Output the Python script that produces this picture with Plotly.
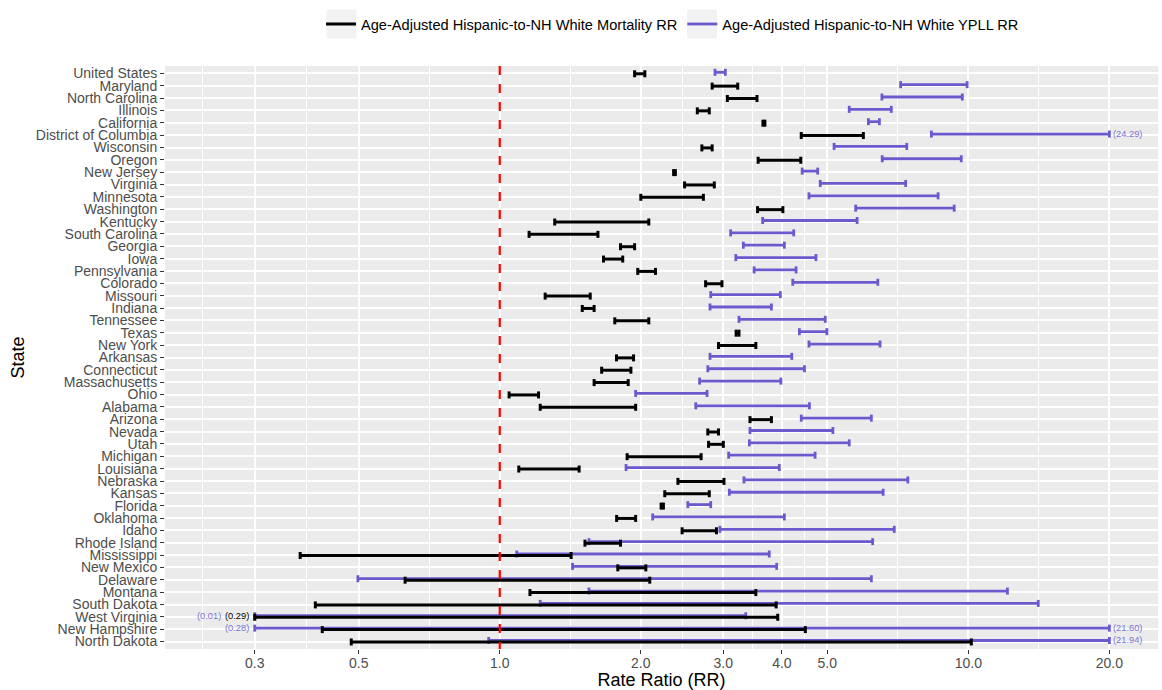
import numpy as np
import plotly.graph_objects as go

# ---------------- data ----------------
states = [
    "United States", "Maryland", "North Carolina", "Illinois", "California",
    "District of Columbia", "Wisconsin", "Oregon", "New Jersey", "Virginia",
    "Minnesota", "Washington", "Kentucky", "South Carolina", "Georgia", "Iowa",
    "Pennsylvania", "Colorado", "Missouri", "Indiana", "Tennessee", "Texas",
    "New York", "Arkansas", "Connecticut", "Massachusetts", "Ohio", "Alabama",
    "Arizona", "Nevada", "Utah", "Michigan", "Louisiana", "Nebraska", "Kansas",
    "Florida", "Oklahoma", "Idaho", "Rhode Island", "Mississippi", "New Mexico",
    "Delaware", "Montana", "South Dakota", "West Virginia", "New Hampshire",
    "North Dakota",
]

# Age-adjusted Hispanic-to-NH White mortality rate ratio (CI bounds)
mort_lo = [1.94, 2.84, 3.06, 2.64, 3.645, 4.40, 2.70, 3.56, 2.35, 2.48,
           2.00, 3.55, 1.31, 1.155, 1.81, 1.665, 1.97, 2.75, 1.25, 1.50,
           1.76, 3.195, 2.93, 1.775, 1.65, 1.59, 1.047, 1.22, 3.42, 2.78,
           2.79, 1.87, 1.098, 2.40, 2.25, 2.21, 1.776, 2.45, 1.52, 0.375,
           1.786, 0.628, 1.16, 0.404, 0.29, 0.418, 0.482]
mort_hi = [2.04, 3.22, 3.54, 2.80, 3.68, 5.97, 2.84, 4.39, 2.37, 2.87,
           2.72, 4.02, 2.08, 1.62, 1.94, 1.83, 2.15, 2.98, 1.56, 1.59,
           2.08, 3.24, 3.52, 1.93, 1.905, 1.88, 1.21, 1.95, 3.80, 2.93,
           3.00, 2.69, 1.477, 3.01, 2.80, 2.235, 1.95, 2.90, 1.81, 1.42,
           2.05, 2.09, 3.52, 3.89, 3.92, 4.49, 10.15]

# Age-adjusted Hispanic-to-NH White YPLL rate ratio (CI bounds)
ypll_lo = [2.88, 7.17, 6.54, 5.57, 6.12, 8.34, 5.17, 6.55, 4.42, 4.83,
           4.57, 5.75, 3.64, 3.11, 3.31, 3.19, 3.49, 4.22, 2.82, 2.81,
           3.24, 4.36, 4.57, 2.81, 2.78, 2.67, 1.95, 2.62, 4.40, 3.42,
           3.41, 3.08, 1.86, 3.32, 3.09, 2.52, 2.12, 2.95, 1.55, 1.087,
           1.43, 0.498, 1.55, 1.22, 0.01, 0.28, 0.947]
ypll_hi = [3.03, 9.94, 9.71, 6.85, 6.46, 24.29, 7.39, 9.66, 4.77, 7.35,
           8.62, 9.33, 5.79, 4.24, 4.05, 4.73, 4.29, 6.41, 3.97, 3.80,
           4.95, 4.99, 6.48, 4.20, 4.47, 3.98, 2.77, 4.58, 6.21, 5.14,
           5.57, 4.71, 3.95, 7.43, 6.58, 2.82, 4.05, 6.95, 6.25, 3.76,
           3.90, 6.21, 12.12, 14.10, 3.35, 21.60, 21.94]

x_ticks = [0.3, 0.5, 1.0, 2.0, 3.0, 4.0, 5.0, 10.0, 20.0]
x_tick_labels = ["0.3", "0.5", "1.0", "2.0", "3.0", "4.0", "5.0", "10.0", "20.0"]
CLIP_LO, CLIP_HI = 0.3, 20.0
REF_LINE = 1.0

mort_name = "Age-Adjusted Hispanic-to-NH White Mortality RR"
ypll_name = "Age-Adjusted Hispanic-to-NH White YPLL RR"

# ---------------- style ----------------
BLACK = "#000000"
PURPLE = "#6A5ACD"
FONT = "Liberation Sans, Arial, sans-serif"
W, H = 1162, 690
ML, MR, MT, MB = 165, 4, 66, 41
PW, PH = W - ML - MR, H - MT - MB

n = len(states)
rows = list(range(n))


def clip(v):
    return min(max(v, CLIP_LO), CLIP_HI)


def interval_traces(lo, hi, color, width, yoff, name, rank):
    xs, ys, cx, cy = [], [], [], []
    for i, (a, b) in enumerate(zip(lo, hi)):
        a, b = clip(a), clip(b)
        xs += [a, b, None]
        ys += [i + yoff, i + yoff, None]
        cx += [a, b]
        cy += [i + yoff, i + yoff]
    line = go.Scatter(x=xs, y=ys, mode="lines", name=name, legendrank=rank,
                      line=dict(color=color, width=width), hoverinfo="skip")
    caps = go.Scatter(x=cx, y=cy, mode="markers", showlegend=False,
                      hoverinfo="skip",
                      marker=dict(symbol="line-ns", size=5,
                                  line=dict(color=color, width=width)))
    return [line, caps]


fig = go.Figure()
for t in interval_traces(ypll_lo, ypll_hi, PURPLE, 2.8, -0.09, ypll_name, 2):
    fig.add_trace(t)
for t in interval_traces(mort_lo, mort_hi, BLACK, 3.0, 0.03, mort_name, 1):
    fig.add_trace(t)

# reference line at RR = 1
fig.add_trace(go.Scatter(x=[REF_LINE, REF_LINE], y=[-0.6, n - 1 + 0.6],
                         mode="lines", showlegend=False, hoverinfo="skip",
                         line=dict(color="#FF0000", width=2.2, dash="9px,9px")))

# labels for clipped values
annotations = []
lab_font = 9.3
for i in rows:
    if ypll_hi[i] > CLIP_HI:
        annotations.append(dict(x=np.log10(CLIP_HI), y=i - 0.09, xref="x", yref="y",
                                text=f"({ypll_hi[i]:.2f})", showarrow=False,
                                xanchor="left", xshift=2,
                                font=dict(size=lab_font, color=PURPLE, family=FONT),
                                opacity=0.85))
    shift = -4
    if mort_lo[i] < CLIP_LO:
        annotations.append(dict(x=np.log10(CLIP_LO), y=i - 0.09, xref="x", yref="y",
                                text=f"({mort_lo[i]:.2f})", showarrow=False,
                                xanchor="right", xshift=shift,
                                font=dict(size=lab_font, color=BLACK, family=FONT)))
        shift -= 28
    if ypll_lo[i] < CLIP_LO:
        annotations.append(dict(x=np.log10(CLIP_LO), y=i - 0.09, xref="x", yref="y",
                                text=f"({ypll_lo[i]:.2f})", showarrow=False,
                                xanchor="right", xshift=shift,
                                font=dict(size=lab_font, color=PURPLE, family=FONT),
                                opacity=0.85))

# minor gridlines midway (in log space) between the labelled breaks
logt = np.log10(x_ticks)
mids = list((logt[:-1] + logt[1:]) / 2)
mids = [logt[0] - (logt[1] - logt[0]) / 2] + mids
minor_vals = [float(10 ** m) for m in mids]


def px_x(px):
    return (px - ML) / PW


def px_y(py):
    return (H - MB - py) / PH


# grey legend key boxes (ggplot style)
shapes = []
for x0, x1 in [(326.5, 356.5), (687, 717)]:
    shapes.append(dict(type="rect", xref="paper", yref="paper",
                       x0=px_x(x0), x1=px_x(x1), y0=px_y(38.5), y1=px_y(9.5),
                       fillcolor="#F2F2F2", line=dict(width=0), layer="below"))

fig.update_layout(
    width=W, height=H,
    margin=dict(l=ML, r=MR, t=MT, b=MB, pad=0, autoexpand=False),
    paper_bgcolor="white", plot_bgcolor="#EBEBEB",
    font=dict(family=FONT, color=BLACK),
    showlegend=True,
    legend=dict(orientation="h", xref="paper", yref="paper",
                x=px_x(321), xanchor="left", y=px_y(24), yanchor="middle",
                bgcolor="rgba(0,0,0,0)", font=dict(size=14.6, color=BLACK),
                itemwidth=30, traceorder="normal"),
    annotations=annotations,
    shapes=shapes,
    xaxis=dict(type="log", range=[np.log10(0.193), np.log10(25.4)],
               automargin=False,
               tickmode="array", tickvals=x_ticks, ticktext=x_tick_labels,
               ticks="outside", ticklen=4, tickwidth=1, tickcolor="#333333",
               tickfont=dict(size=14, color="#4D4D4D"), ticklabelstandoff=-3,
               showgrid=True, gridcolor="white", gridwidth=2,
               minor=dict(tickmode="array", tickvals=minor_vals, showgrid=True,
                          gridcolor="white", gridwidth=1.1, ticks=""),
               zeroline=False, showline=False,
               title=dict(text="Rate Ratio (RR)", font=dict(size=18, color=BLACK),
                          standoff=2)),
    yaxis=dict(range=[n - 1 + 0.6, -0.6], automargin=False,
               tickmode="array", tickvals=rows,
               ticktext=states, ticks="outside", ticklen=4, tickwidth=1,
               tickcolor="#333333", tickfont=dict(size=14, color="#4D4D4D"),
               showgrid=True, gridcolor="white", gridwidth=2,
               zeroline=False, showline=False,
               title=dict(text="State", font=dict(size=18, color=BLACK),
                          standoff=6)),
)

fig.write_html("out.html",
               config={"displayModeBar": False},
               post_script="document.body.style.margin='0';"
                           "document.body.style.overflow='hidden';")
